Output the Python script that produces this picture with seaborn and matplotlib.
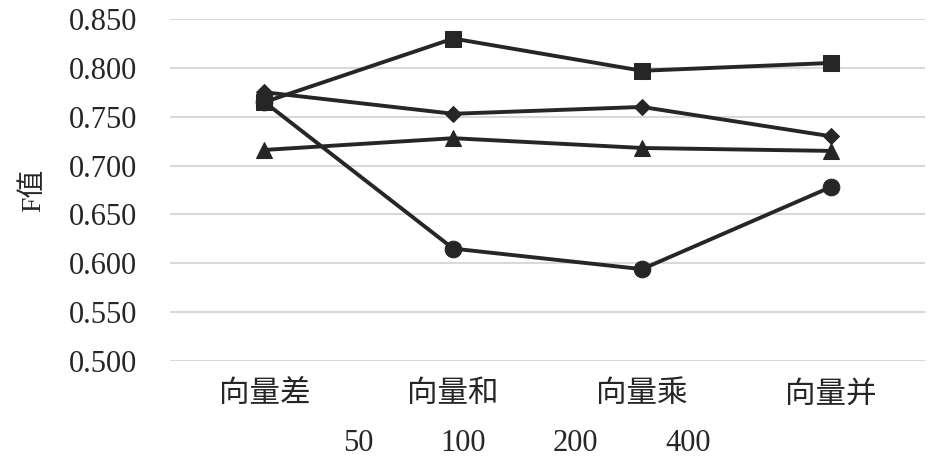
import pandas as pd
import matplotlib
matplotlib.use('Agg')
import matplotlib.pyplot as plt
import seaborn as sns

# Data
categories = ['向量差', '向量和', '向量乘', '向量并']
series_names = ['50', '100', '200', '400']
f_50 = [0.775, 0.753, 0.760, 0.730]
f_100 = [0.765, 0.830, 0.797, 0.805]
f_200 = [0.716, 0.728, 0.718, 0.715]
f_400 = [0.765, 0.615, 0.594, 0.678]
y_ticks = [0.500, 0.550, 0.600, 0.650, 0.700, 0.750, 0.800, 0.850]

values = [f_50, f_100, f_200, f_400]
df = pd.DataFrame({
    'method': categories * len(series_names),
    'F': [v for s in values for v in s],
    'size': [n for n in series_names for _ in categories],
})

sns.set_style('white')
plt.rcParams['font.family'] = ['Liberation Serif', 'Noto Sans CJK SC', 'DejaVu Sans']

fig = plt.figure(figsize=(9.45, 4.69), dpi=100)
ax = fig.add_axes([0.18, 0.2303, 0.799, 0.7292])

line_color = '#262626'
markers = {'50': ('D', 8), '100': ('s', 12), '200': ('^', 12), '400': ('o', 12)}
for name in series_names:
    m, ms = markers[name]
    sub = df[df['size'] == name]
    sns.lineplot(data=sub, x='method', y='F', ax=ax, color=line_color,
                 marker=m, markersize=ms, linewidth=2.8, label=name,
                 markeredgecolor=line_color, sort=False)

ax.set_xlim(-0.5, len(categories) - 0.5)
ax.set_ylim(0.500, 0.850)
ax.set_yticks(y_ticks)
ax.set_yticklabels([f'{t:.3f}' for t in y_ticks])
ax.grid(axis='y', color='#d9d9d9', linewidth=1.5)
ax.set_axisbelow(True)
for s in ax.spines.values():
    s.set_visible(False)
ax.tick_params(axis='y', length=0, pad=24, labelsize=22)
ax.tick_params(axis='x', length=0, pad=14, labelsize=22)
ax.set_xlabel('')
ax.set_ylabel('F值', fontsize=20, labelpad=16)

handles, labels = ax.get_legend_handles_labels()
ax.get_legend().remove()
leg = fig.legend(handles, labels, loc='center', bbox_to_anchor=(527 / 945, 1 - 443 / 469),
                 ncol=4, frameon=False, fontsize=22, handlelength=0, handletextpad=0,
                 columnspacing=2.2)
for h in leg.legend_handles:
    h.set_visible(False)

fig.savefig('out.png', dpi=100)
